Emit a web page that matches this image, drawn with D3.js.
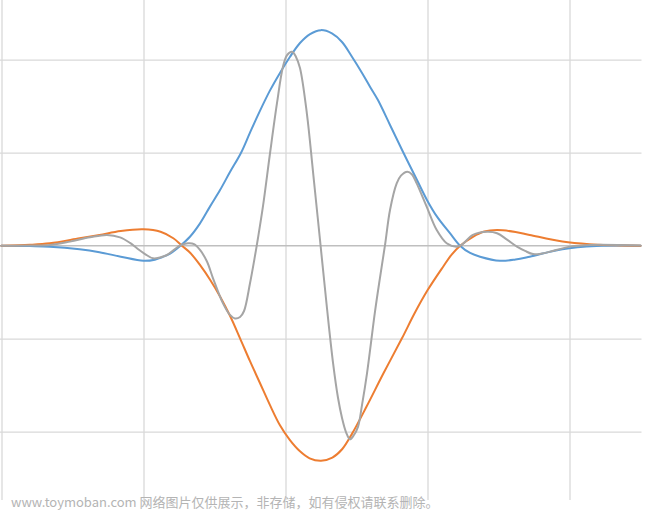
<!DOCTYPE html>
<html>
<head>
<meta charset="utf-8">
<script src="https://cdn.jsdelivr.net/npm/d3@7/dist/d3.min.js"></script>
<style>
  html, body { margin: 0; padding: 0; background: #ffffff; }
  svg { display: block; }
</style>
</head>
<body>
<svg id="chart" width="649" height="511"></svg>
<script>
// ---- data (sample index, value) ----
const xTicks = [0, 100, 200, 300, 400];
const yTicks = [-1.5, -1, -0.5, 0, 0.5, 1, 1.5];

const blueX = [0, 20, 34, 55, 69, 84, 100, 108, 113, 119, 126, 132.7, 139.8, 146.8, 153.9, 160.9, 168.7, 175, 182, 189.1, 196.1, 203.2, 210.2, 217.3, 225, 232.7, 239.8, 246.8, 253.9, 259.5, 265.1, 273.6, 282.7, 292.6, 299.6, 306.7, 315.8, 322.9, 330, 337, 351, 362, 372, 395, 419, 450];
const blueY = [0, -0.002, -0.005, -0.019, -0.035, -0.059, -0.081, -0.075, -0.062, -0.041, 0, 0.048, 0.120, 0.210, 0.299, 0.396, 0.500, 0.608, 0.725, 0.835, 0.929, 1.016, 1.090, 1.138, 1.159, 1.141, 1.095, 1.016, 0.929, 0.855, 0.783, 0.649, 0.505, 0.353, 0.246, 0.156, 0.067, 0, -0.039, -0.059, -0.081, -0.074, -0.059, -0.019, -0.002, 0];

const orangeX = [0, 20, 34, 55, 69, 84, 100, 112, 121, 127, 133, 140, 147, 154, 161, 168, 175, 182, 189, 196, 203, 210, 217, 225, 233, 240, 247, 257, 269, 282, 291, 300, 311, 317, 323, 332, 340, 349, 362, 372, 395, 414, 450];
const orangeY = [0, 0.005, 0.013, 0.040, 0.058, 0.079, 0.088, 0.075, 0.040, 0, -0.039, -0.106, -0.184, -0.274, -0.378, -0.498, -0.621, -0.738, -0.856, -0.964, -1.044, -1.104, -1.143, -1.156, -1.139, -1.093, -1.009, -0.866, -0.686, -0.498, -0.362, -0.240, -0.113, -0.048, 0, 0.048, 0.076, 0.084, 0.074, 0.058, 0.022, 0.008, 0];

const grayX = [0, 20.1, 34.2, 48.2, 62.3, 74.3, 83.5, 90.5, 95.4, 101.1, 106.7, 111.6, 116.5, 122.2, 125.7, 131.3, 135.6, 139.8, 144.7, 148.9, 156.0, 160.9, 164.4, 168.0, 170.8, 175.0, 178.5, 180.6, 184.2, 189.1, 194.0, 198.2, 201.1, 204.6, 207.4, 210.2, 215.1, 219.4, 224.3, 229.2, 233.5, 237.0, 239.8, 242.6, 245.4, 248.2, 251.1, 253.9, 257.4, 263.0, 266.5, 270.1, 273.6, 278.3, 281.3, 285.8, 289.1, 292.4, 299.4, 306.5, 313.5, 320.6, 324.3, 332.0, 341.9, 349.0, 356.0, 363.0, 368.7, 374.3, 380.6, 386.3, 400.4, 414.4, 450];
const grayY = [0, 0.001, 0.004, 0.022, 0.045, 0.058, 0.045, 0.015, -0.014, -0.045, -0.068, -0.063, -0.050, -0.018, 0.001, 0.013, 0.009, -0.023, -0.085, -0.174, -0.310, -0.372, -0.391, -0.383, -0.351, -0.202, -0.055, 0.040, 0.215, 0.497, 0.766, 0.962, 1.025, 1.043, 1.015, 0.955, 0.708, 0.396, 0.031, -0.335, -0.631, -0.819, -0.926, -1.002, -1.041, -1.018, -0.973, -0.856, -0.686, -0.356, -0.174, 0.004, 0.192, 0.335, 0.377, 0.398, 0.383, 0.335, 0.210, 0.084, 0.013, -0.005, 0.006, 0.058, 0.075, 0.067, 0.033, -0.005, -0.028, -0.045, -0.042, -0.032, -0.005, 0.004, 0.001];

const seriesColors = ["#5B9BD5", "#ED7D31", "#A5A5A5"];
const watermark = "www.toymoban.com 网络图片仅供展示，非存储，如有侵权请联系删除。";

// ---- scales ----
const svg = d3.select("#chart");
const x = d3.scaleLinear().domain([0, 450]).range([1.5, 640.5]);
const y = d3.scaleLinear().domain([-1.5, 1.5]).range([524.7, -33.3]);
const gridRight = 641.5;
const gridBottom = 500;

// vertical gridlines
svg.append("g")
  .attr("transform", `translate(0,${gridBottom})`)
  .call(d3.axisBottom(x).tickValues(xTicks).tickSize(-(gridBottom + 40)).tickFormat(""))
  .call(g => g.select(".domain").remove())
  .call(g => g.selectAll(".tick line").attr("stroke", "#d9d9d9").attr("stroke-width", 1.3));

// horizontal gridlines
svg.append("g")
  .call(d3.axisRight(y).tickValues(yTicks.filter(v => v !== 0)).tickSize(gridRight).tickFormat(""))
  .call(g => g.select(".domain").remove())
  .call(g => g.selectAll(".tick line").attr("stroke", "#d9d9d9").attr("stroke-width", 1.3));

// zero axis line
svg.append("line")
  .attr("x1", 0).attr("x2", gridRight)
  .attr("y1", y(0)).attr("y2", y(0))
  .attr("stroke", "#bfbfbf").attr("stroke-width", 1.4);

// ---- lines ----
const line = d3.line().x(d => x(d[0])).y(d => y(d[1])).curve(d3.curveCatmullRom.alpha(0.5));
const series = [
  d3.zip(blueX, blueY),
  d3.zip(orangeX, orangeY),
  d3.zip(grayX, grayY)
];
series.forEach((s, k) => {
  svg.append("path")
    .datum(s)
    .attr("fill", "none")
    .attr("stroke", seriesColors[k])
    .attr("stroke-width", 2)
    .attr("stroke-linejoin", "round")
    .attr("stroke-linecap", "round")
    .attr("d", line);
});

// watermark text
svg.append("text")
  .attr("x", 11).attr("y", 507)
  .attr("font-family", "'Noto Sans CJK SC', 'Noto Sans', sans-serif")
  .attr("font-size", 13)
  .attr("fill", "#b4b4b4")
  .text(watermark);
</script>
</body>
</html>
